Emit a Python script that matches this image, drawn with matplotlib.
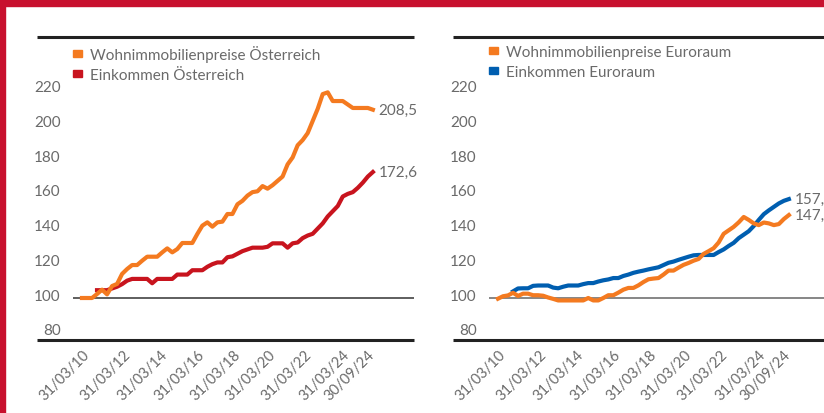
import matplotlib
matplotlib.use("Agg")
import matplotlib.pyplot as plt
import matplotlib.transforms as mtransforms
from matplotlib.patches import Patch, Rectangle
import numpy as np

plt.rcParams['font.family'] = ['Lato', 'DejaVu Sans']

# quarterly index, Q1 2010 = 100
house_at = [100, 100, 100, 102.3, 104.8, 102.1, 106.9, 108.1, 113.9, 116.7,
            119, 119, 121.5, 123.8, 123.8, 123.8, 126.3, 128.6, 126.3, 128.2,
            131.7, 131.7, 131.7, 136.9, 141.7, 143.6, 141.1, 143.6, 144, 148.4,
            148.4, 154, 156, 159, 161, 161.5, 164.5, 163, 165, 167.5,
            170, 177, 181, 188, 191, 195, 202, 209, 217.5, 218.5,
            213.5, 213.5, 213.5, 211.5, 209.5, 209.5, 209.5, 209.5, 208.5]
income_at = [None, None, None, 104.5, 104.5, 104.5, 105.5, 106.5, 108, 110,
             111, 111, 111, 111, 108.5, 111, 111, 111, 111, 113.5,
             113.5, 113.5, 116, 116, 116, 118, 119.5, 120.5, 120.5, 123.5,
             124, 125.5, 127, 128, 129, 129, 129, 129.5, 131.5, 131.5,
             131.5, 129, 131.5, 132, 134.5, 136, 137, 140, 143, 147,
             150, 153, 158.5, 160, 161, 163.5, 166.5, 170, 172.6]
house_ea = [99.6, 101, 101.5, 103, 101.2, 102.5, 102.5, 101.6, 101.6, 101.3,
            100.3, 99.5, 98.6, 98.6, 98.6, 98.6, 98.6, 98.6, 100, 98.6,
            98.6, 100, 101.6, 101.6, 103.1, 104.8, 105.8, 105.8, 107.3, 109.2,
            110.8, 111.2, 111.5, 113.5, 115.8, 115.8, 117.5, 119.1, 120.2, 121.5,
            122.5, 125.4, 127, 128.7, 132, 137, 139, 141, 143.6, 146.7,
            145, 143, 142, 143.5, 143, 142, 142.6, 145.5, 147.8]
income_ea = [None, None, None, 103.8, 105.5, 105.6, 105.6, 107, 107.2, 107.2,
             107.2, 106, 105.6, 106.5, 107.2, 107.2, 107.2, 108, 108.6, 108.6,
             109.5, 110.2, 110.7, 111.5, 111.5, 112.7, 113.5, 114.5, 115.2, 115.8,
             116.5, 117.1, 117.7, 119, 120.3, 121, 122, 122.9, 123.8, 124.6,
             124.8, 124.8, 124.8, 124.8, 126.5, 128, 130, 131.8, 134.5, 136.5,
             138.5, 141.5, 145, 148.3, 150.5, 152.5, 154.5, 156, 157.0]

tick_labels = ['31/03/10', '31/03/12', '31/03/14', '31/03/16', '31/03/18',
               '31/03/20', '31/03/22', '31/03/24', '30/09/24']
tick_pos = [2, 10.2, 17.7, 24.9, 32.1, 39.1, 46.4, 53.8, 58.8]
y_ticks = [80, 100, 120, 140, 160, 180, 200, 220]

ORANGE = '#F47A20'
RED = '#C8141E'
BLUE = '#005EB0'
GREY = '#6a6a6a'
FS = 11

fig = plt.figure(figsize=(8.24, 4.14), dpi=100)
W, H = 824, 414


def make_ax(left_px, line_left_px, base_color):
    ax = fig.add_axes([left_px / W, (H - 341) / H, 341 / W, 303 / H])
    ax.set_xlim(-1.79, 66.2)
    ax.set_ylim(75.8, 250.4)
    for s in ax.spines.values():
        s.set_visible(False)
    ax.axhline(100, color=base_color, lw=1.1, zorder=1)
    ext = (line_left_px - left_px) / 341
    ax.plot([ext, 1], [1, 1], transform=ax.transAxes, color='#222222',
            lw=2.2, clip_on=False, solid_capstyle='butt')
    ax.plot([ext, 1], [0, 0], transform=ax.transAxes, color='#222222',
            lw=2.2, clip_on=False, solid_capstyle='butt')
    ax.set_yticks(y_ticks)
    ax.set_yticklabels([str(v) for v in y_ticks])
    ax.tick_params(axis='y', length=0, pad=9, labelsize=FS, labelcolor=GREY)
    shift = mtransforms.ScaledTranslation(0, 4 / 100, fig.dpi_scale_trans)
    for lbl in ax.get_yticklabels():
        lbl.set_transform(lbl.get_transform() + shift)
    ax.set_xticks(tick_pos)
    ax.set_xticklabels(tick_labels, rotation=45, ha='right')
    ax.tick_params(axis='x', length=0, pad=5, labelsize=10.5, labelcolor=GREY)
    return ax


def series(vals):
    x = np.arange(len(vals))
    y = np.array([np.nan if v is None else v for v in vals], dtype=float)
    return x, y


def end_label(ax, vals):
    ax.annotate(f'{vals[-1]:.1f}'.replace('.', ','), xy=(len(vals) - 1, vals[-1]),
                xytext=(4, 0), textcoords='offset points', va='center',
                ha='left', fontsize=FS, color=GREY, annotation_clip=False)


def add_legend(ax, handles):
    ax.legend(handles=handles, loc='upper left',
              bbox_to_anchor=(0, (341 - 46) / 303), frameon=False,
              borderpad=0, borderaxespad=0, handlelength=0.6, handleheight=0.33,
              handletextpad=0.5, labelspacing=0.4, fontsize=FS,
              labelcolor=GREY)


ax1 = make_ax(73, 37, '#333333')
ax1.plot(*series(income_at), color=RED, lw=3, solid_joinstyle='round')
ax1.plot(*series(house_at), color=ORANGE, lw=3, solid_joinstyle='round')
end_label(ax1, house_at)
end_label(ax1, income_at)
add_legend(ax1, [Patch(color=ORANGE, label='Wohnimmobilienpreise Österreich'),
                 Patch(color=RED, label='Einkommen Österreich')])

ax2 = make_ax(489, 453, '#666666')
ax2.plot(*series(income_ea), color=BLUE, lw=3, solid_joinstyle='round')
ax2.plot(*series(house_ea), color=ORANGE, lw=3, solid_joinstyle='round')
end_label(ax2, income_ea)
end_label(ax2, house_ea)
add_legend(ax2, [Patch(color=ORANGE, label='Wohnimmobilienpreise Euroraum'),
                 Patch(color=BLUE, label='Einkommen Euroraum')])

# red frame along the top and left edge
fig.patches.append(Rectangle((0, 1 - 7 / H), 1, 7 / H, transform=fig.transFigure,
                             color='#C8102E', zorder=10))
fig.patches.append(Rectangle((0, 0), 5 / W, 1, transform=fig.transFigure,
                             color='#C8102E', zorder=10))

fig.savefig('out.png', dpi=100)
